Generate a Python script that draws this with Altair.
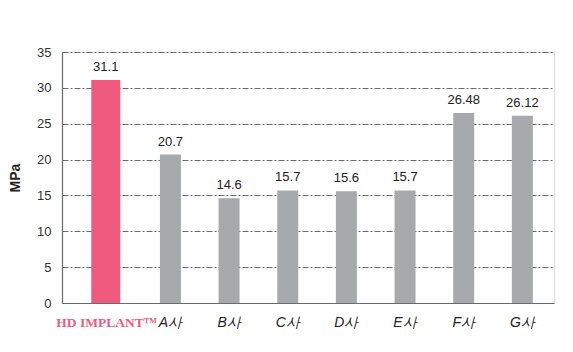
import altair as alt
import pandas as pd

categories = ["HD IMPLANT™", "A사", "B사", "C사", "D사", "E사", "F사", "G사"]
values = [31.1, 20.7, 14.6, 15.7, 15.6, 15.7, 26.48, 26.12]
value_labels = ["31.1", "20.7", "14.6", "15.7", "15.6", "15.7", "26.48", "26.12"]
y_ticks = [0, 5, 10, 15, 20, 25, 30, 35]

df = pd.DataFrame({"cat": categories, "val": values, "lab": value_labels})

HD = "HD IMPLANT™"
PINK = "#F05A7E"
GRAY = "#A8A9AD"
is_hd = f"datum.value == '{HD}'"

x_enc = alt.X(
    "cat:N",
    sort=categories,
    title=None,
    scale=alt.Scale(paddingInner=0.642, paddingOuter=0.515, align=0.65),
    axis=alt.Axis(
        labelAngle=0,
        ticks=False,
        domainColor="#6b6b6b",
        domainWidth=1.2,
        labelPadding=12,
        labelFontSize={"condition": {"test": is_hd, "value": 13.5}, "value": 14},
        labelFont={"condition": {"test": is_hd, "value": "Liberation Serif"}, "value": "Liberation Sans"},
        labelFontWeight={"condition": {"test": is_hd, "value": "bold"}, "value": "normal"},
        labelFontStyle={"condition": {"test": is_hd, "value": "normal"}, "value": "italic"},
        labelColor={"condition": {"test": is_hd, "value": PINK}, "value": "#222222"},
        labelOffset={"condition": {"test": is_hd, "value": -5}, "value": 0},
    ),
)
y_enc = alt.Y(
    "val:Q",
    title="MPa",
    scale=alt.Scale(domain=[0, 35], nice=False),
    axis=alt.Axis(
        values=y_ticks,
        ticks=False,
        grid=True,
        gridColor="#6b6b6b",
        gridDash=[6, 2, 2, 2],
        gridWidth=1,
        domainColor="#6b6b6b",
        domainWidth=1.2,
        labelFontSize=13,
        labelColor="#333333",
        labelFont="Liberation Sans",
        labelPadding=11,
        titleFontSize=14,
        titleFont="Liberation Sans",
        titleFontWeight="bold",
        titleColor="#222222",
        titlePadding=14,
    ),
)

base = alt.Chart(df)

bars_other = base.transform_filter(f"datum.cat != '{HD}'").mark_bar(color=GRAY, size=21).encode(x=x_enc, y=y_enc)
bar_hd = base.transform_filter(f"datum.cat == '{HD}'").mark_bar(color=PINK, size=29, xOffset=-6).encode(x=x_enc, y=y_enc)
text_other = base.transform_filter(f"datum.cat != '{HD}'").mark_text(
    dy=-13, fontSize=13, color="#222222", font="Liberation Sans"
).encode(x=x_enc, y=y_enc, text="lab:N")
text_hd = base.transform_filter(f"datum.cat == '{HD}'").mark_text(
    dy=-13, dx=-6, fontSize=13, color="#222222", font="Liberation Sans"
).encode(x=x_enc, y=y_enc, text="lab:N")

chart = (
    alt.layer(bars_other, bar_hd, text_other, text_hd)
    .properties(
        width=492,
        height=251,
        autosize=alt.AutoSizeParams(type="none"),
        padding={"left": 62, "top": 52, "right": 19, "bottom": 49},
    )
    .configure_view(stroke=None)
    .configure(background="white")
)

chart.save("out.html", embed_options={"renderer": "svg", "actions": False})
